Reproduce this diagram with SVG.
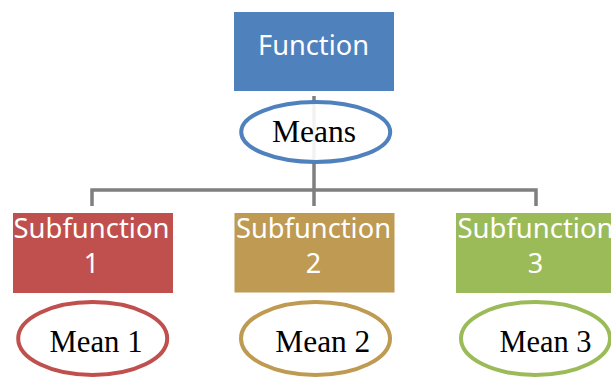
<svg xmlns="http://www.w3.org/2000/svg" width="611" height="378" viewBox="0 0 611 378">
  <style>
    .box-text { font-family: "Noto Sans", "Open Sans", sans-serif; font-size: 27px; fill: #ffffff; text-anchor: middle; }
    .mean-text { font-family: "Liberation Serif", "Times New Roman", serif; font-size: 31px; fill: #000000; text-anchor: middle; }
    .mean { fill: #ffffff; fill-opacity: 0.9; stroke-width: 4; }
    .link { fill: none; stroke: #7f7f7f; stroke-width: 3.5; }
  </style>
  <rect width="611" height="378" fill="#ffffff"/>

  <g id="connectors">
    <path class="link" d="M314 96 V190"/>
    <path class="link" d="M92 206 V190 H536 V206"/>
    <path class="link" d="M314 190 V206"/>
  </g>

  <g id="function">
    <rect x="234" y="12" width="160" height="79" fill="#4f81bd"/>
    <text class="box-text" x="313.5" y="55" textLength="111" lengthAdjust="spacingAndGlyphs">Function</text>
  </g>

  <g id="means">
    <ellipse class="mean" cx="315.7" cy="132" rx="74.5" ry="30" stroke="#4f81bd"/>
    <text class="mean-text" x="314" y="141.5" textLength="84" lengthAdjust="spacingAndGlyphs">Means</text>
  </g>

  <g id="subfunction-1">
    <rect x="13" y="213" width="160" height="80" fill="#c0504d"/>
    <text class="box-text" x="91.5" y="238" textLength="156" lengthAdjust="spacingAndGlyphs">Subfunction</text>
    <text class="box-text" x="91.5" y="273">1</text>
  </g>

  <g id="subfunction-2">
    <rect x="234.5" y="213" width="160" height="79.5" fill="#be9a52"/>
    <text class="box-text" x="313.5" y="238" textLength="155" lengthAdjust="spacingAndGlyphs">Subfunction</text>
    <text class="box-text" x="313.5" y="273">2</text>
  </g>

  <g id="subfunction-3">
    <rect x="456" y="213" width="160" height="80" fill="#9bbb59"/>
    <text class="box-text" x="535.5" y="238" textLength="156" lengthAdjust="spacingAndGlyphs">Subfunction</text>
    <text class="box-text" x="535.5" y="273">3</text>
  </g>

  <g id="mean-1">
    <ellipse class="mean" cx="92.7" cy="338.5" rx="74.5" ry="36.5" stroke="#c0504d"/>
    <text class="mean-text" x="96" y="352.3" textLength="93" lengthAdjust="spacingAndGlyphs">Mean 1</text>
  </g>

  <g id="mean-2">
    <ellipse class="mean" cx="315.5" cy="338.5" rx="74.5" ry="36.5" stroke="#be9a52"/>
    <text class="mean-text" x="322.8" y="352" textLength="95" lengthAdjust="spacingAndGlyphs">Mean 2</text>
  </g>

  <g id="mean-3">
    <ellipse class="mean" cx="535.5" cy="338.5" rx="74.5" ry="36.5" stroke="#9bbb59"/>
    <text class="mean-text" x="545.5" y="352" textLength="92" lengthAdjust="spacingAndGlyphs">Mean 3</text>
  </g>
</svg>
